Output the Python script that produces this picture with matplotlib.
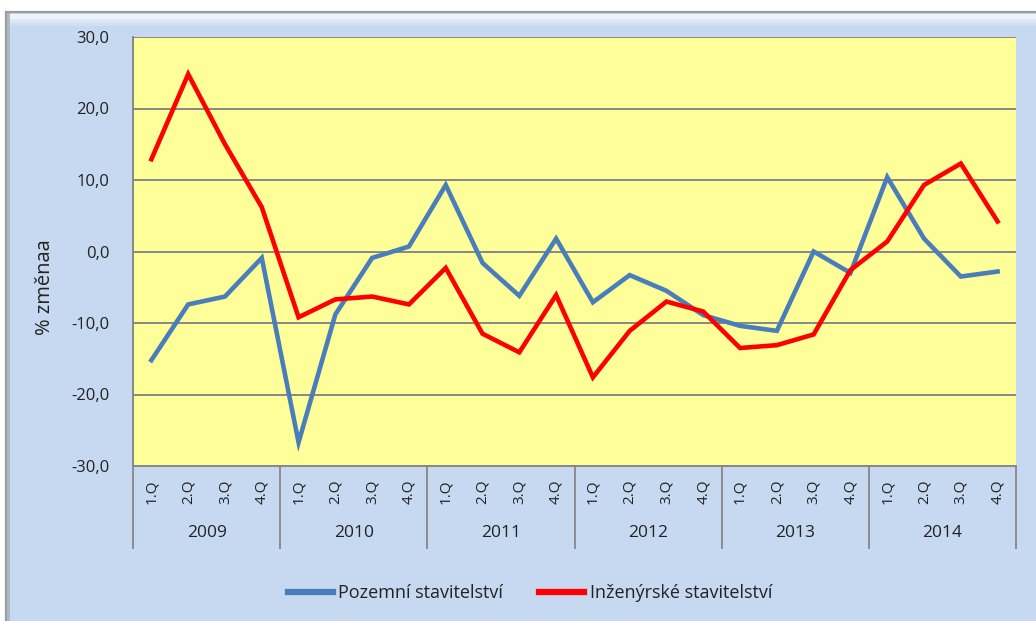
import matplotlib
matplotlib.use("Agg")
import matplotlib.pyplot as plt
from matplotlib.patches import Rectangle
from matplotlib.lines import Line2D
import matplotlib.transforms as mtransforms

plt.rcParams['font.family'] = ['Open Sans', 'DejaVu Sans']

years = ["2009", "2010", "2011", "2012", "2013", "2014"]
quarters = ["1.Q", "2.Q", "3.Q", "4.Q"]
pozemni = [-15.2, -7.4, -6.3, -0.9,
           -26.7, -8.8, -0.9, 0.7,
           9.3, -1.6, -6.2, 1.8,
           -7.1, -3.3, -5.5, -8.9,
           -10.4, -11.1, 0.0, -3.0,
           10.4, 1.8, -3.5, -2.8]
inzenyrske = [12.9, 24.8, 15.0, 6.2,
              -9.2, -6.7, -6.3, -7.4,
              -2.3, -11.5, -14.1, -6.1,
              -17.6, -11.1, -7.0, -8.4,
              -13.5, -13.1, -11.6, -2.6,
              1.4, 9.3, 12.3, 4.2]
yticks = [-30, -20, -10, 0, 10, 20, 30]
ylabel = "% změnaa"
legend_labels = ["Pozemní stavitelství", "Inženýrské stavitelství"]

W, H = 1036, 621
fig = plt.figure(figsize=(W / 100, H / 100), dpi=100)
fig.patch.set_facecolor('white')

# background chart box
bg = fig.add_axes([0, 0, 1, 1], zorder=-10)
bg.set_xlim(0, W)
bg.set_ylim(H, 0)
bg.axis('off')
bg.add_patch(Rectangle((6, 12), 1100, 700, facecolor='#C6D9F1',
                       edgecolor='#9C9C9C', lw=1.6))
bg.add_patch(Rectangle((8, 14), 1100, 5, facecolor='#EEF4FB', edgecolor='none'))
bg.add_patch(Rectangle((8, 19), 1100, 4, facecolor='#DDE8F6', edgecolor='none'))
bg.add_patch(Rectangle((8, 23), 1100, 3, facecolor='#D0E0F3', edgecolor='none'))
bg.add_patch(Rectangle((7, 13), 3, 700, facecolor='#AEB9C6', edgecolor='none'))

ax = fig.add_axes([133 / W, 1 - 466 / H, (1016 - 133) / W, (466 - 37) / H])
ax.set_facecolor('#FFFF99')
n = len(pozemni)
x = list(range(n))
ax.plot(x, pozemni, color='#4A7EBB', lw=3.3, solid_joinstyle='miter',
        label=legend_labels[0], zorder=3)
ax.plot(x, inzenyrske, color='#FF0000', lw=3.3, solid_joinstyle='miter',
        label=legend_labels[1], zorder=3)
ax.set_xlim(-0.5, n - 0.5)
ax.set_ylim(-30, 30)
ax.set_yticks(yticks)
ax.set_yticklabels([f"{v:.1f}".replace('.', ',') for v in yticks])
ax.grid(axis='y', color='#878787', lw=1.4, zorder=1)
ax.set_axisbelow(True)
ax.tick_params(axis='y', length=0, pad=17, labelsize=12, labelcolor='#222222')
ax.set_xticks([])
for s in ['top', 'right']:
    ax.spines[s].set_visible(False)
for s in ['left', 'bottom']:
    ax.spines[s].set_color('#878787')
    ax.spines[s].set_linewidth(1.4)

trans = mtransforms.blended_transform_factory(ax.transData, ax.transAxes)
for i in range(n):
    ax.text(i, -0.061, quarters[i % 4], transform=trans, rotation=90,
            ha='center', va='center', fontsize=11, color='#222222')
for k, yr in enumerate(years):
    ax.text(4 * k + 1.5, -0.156, yr, transform=trans, ha='center',
            va='center', fontsize=12.5, color='#222222')
for k in range(len(years) + 1):
    ax.add_line(Line2D([4 * k - 0.5, 4 * k - 0.5], [0, -0.191], transform=trans,
                       color='#8C8C8C', lw=1.4, clip_on=False))

fig.text(45 / W, 1 - 287 / H, ylabel, rotation=90, ha='center', va='center',
         fontsize=14.5, color='#222222')

handles = [Line2D([], [], color='#4A7EBB', lw=4.5),
           Line2D([], [], color='#FF0000', lw=4.5)]
fig.legend(handles, legend_labels, loc='center', bbox_to_anchor=(530 / W, 1 - 593 / H),
           ncol=2, frameon=False, fontsize=13, handlelength=2.5,
           handletextpad=0.3, columnspacing=2.0, labelcolor='#222222')

fig.savefig('out.png', dpi=100, facecolor='white')
